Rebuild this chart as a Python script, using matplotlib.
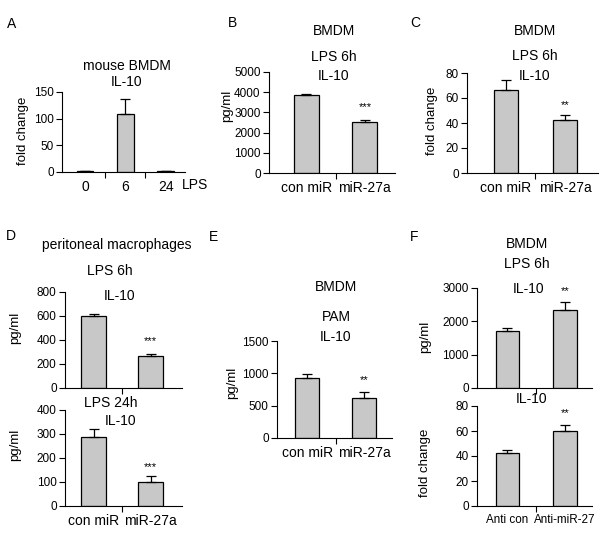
import numpy as np
import matplotlib
matplotlib.use('Agg')
import matplotlib.pyplot as plt

plt.rcParams['font.family'] = ['Liberation Sans', 'DejaVu Sans']

W, H = 600, 541

# data
a_cats = ['0', '6', '24']
a_vals = [1.5, 108, 1.5]
a_err = [0.5, 28, 0.8]

b_cats = ['con miR', 'miR-27a']
b_vals = [3840, 2530]
b_err = [60, 90]

c_cats = ['con miR', 'miR-27a']
c_vals = [66.7, 42.2]
c_err = [8, 4]

d6_cats = ['con miR', 'miR-27a']
d6_vals = [602, 266]
d6_err = [14, 17]
d24_vals = [286, 102]
d24_err = [34, 25]

e_cats = ['con miR', 'miR-27a']
e_vals = [921, 614]
e_err = [62, 92]

f_cats = ['Anti con', 'Anti-miR-27']
f_pg_vals = [1712, 2347]
f_pg_err = [100, 220]
f_fc_vals = [42.4, 59.8]
f_fc_err = [2.2, 5.3]

fig = plt.figure(figsize=(W / 100, H / 100), dpi=100)


def px_axes(left, right, top, bottom):
    return fig.add_axes([left / W, 1 - bottom / H, (right - left) / W, (bottom - top) / H])


def txt(x, y, s, size=10, ha='center', **kw):
    fig.text(x / W, 1 - y / H, s, ha=ha, va='center', fontsize=size, **kw)


def bars(ax, cats, vals, err, ymax, ystep, xlim, xlabels=True, xsize=10, width=0.42):
    x = np.arange(len(cats))
    ax.bar(x, vals, width=width, color='#c8c8c8', edgecolor='black', linewidth=0.9, zorder=2)
    ax.errorbar(x, vals, yerr=[np.zeros(len(err)), err], fmt='none', ecolor='black',
                elinewidth=0.9, capsize=3.5, capthick=0.9, zorder=3)
    ax.set_xlim(*xlim)
    ax.set_ylim(0, ymax)
    ax.set_yticks(np.arange(0, ymax + ystep / 2, ystep))
    ax.set_xticks(x)
    ax.set_xticks(np.arange(0.5, len(cats) - 0.5, 1.0), minor=True)
    if xlabels:
        ax.set_xticklabels(cats, fontsize=xsize)
    else:
        ax.set_xticklabels([])
    ax.tick_params(axis='x', which='major', length=0, pad=6)
    ax.tick_params(axis='x', which='minor', length=4, width=0.8, direction='out')
    ax.tick_params(axis='y', length=4, width=0.8, direction='out', labelsize=8.5, pad=2)
    for s in ['top', 'right']:
        ax.spines[s].set_visible(False)
    for s in ['left', 'bottom']:
        ax.spines[s].set_linewidth(0.8)
    ax.set_facecolor('none')
    ax.yaxis.set_clip_on(False)


# A
ax = px_axes(62, 185, 92, 172)
bars(ax, a_cats, a_vals, a_err, 150, 50, (-0.57, 2.48), width=0.42)
txt(12, 24, 'A')
txt(127, 66, 'mouse BMDM')
txt(127, 82, 'IL-10')
txt(23, 131, 'fold change', size=9.5, rotation=90)
txt(182, 185, 'LPS', ha='left')

# B
ax = px_axes(269, 395, 72, 173)
bars(ax, b_cats, b_vals, b_err, 5000, 1000, (-0.64, 1.52), width=0.43)
txt(233, 23, 'B')
txt(334, 31, 'BMDM')
txt(334, 57, 'LPS 6h')
txt(334, 76, 'IL-10')
txt(227, 106, 'pg/ml', size=9.5, rotation=90)
txt(365, 107, '***', size=8)

# C
ax = px_axes(467, 598, 73, 173)
bars(ax, c_cats, c_vals, c_err, 80, 20, (-0.66, 1.56), width=0.42)
txt(415, 23, 'C')
txt(535, 31, 'BMDM')
txt(535, 56, 'LPS 6h')
txt(535, 76, 'IL-10')
txt(432, 121, 'fold change', size=9.5, rotation=90)
txt(565, 105, '**', size=8)

# D
ax = px_axes(65, 182, 292, 388)
bars(ax, d6_cats, d6_vals, d6_err, 800, 200, (-0.5, 1.55), xlabels=False, width=0.44)
txt(11, 236, 'D')
txt(117, 245, 'peritoneal macrophages')
txt(110, 271, 'LPS 6h')
txt(120, 296, 'IL-10')
txt(15, 328, 'pg/ml', size=9.5, rotation=90)
txt(150, 341, '***', size=8)

ax = px_axes(65, 182, 410, 506)
bars(ax, d6_cats, d24_vals, d24_err, 400, 100, (-0.5, 1.55), width=0.44)
txt(111, 403, 'LPS 24h')
txt(121, 421, 'IL-10')
txt(15, 445, 'pg/ml', size=9.5, rotation=90)
txt(150, 467, '***', size=8)

# E
ax = px_axes(277, 392, 341, 438)
bars(ax, e_cats, e_vals, e_err, 1500, 500, (-0.53, 1.49), width=0.42)
txt(213, 237, 'E')
txt(336, 287, 'BMDM')
txt(336, 317, 'PAM')
txt(336, 337, 'IL-10')
txt(232, 383, 'pg/ml', size=9.5, rotation=90)
txt(364, 380, '**', size=8)

# F
ax = px_axes(477, 592, 288, 388)
bars(ax, f_cats, f_pg_vals, f_pg_err, 3000, 1000, (-0.53, 1.47), xlabels=False, width=0.41)
txt(414, 237, 'F')
txt(527, 244, 'BMDM')
txt(527, 264, 'LPS 6h')
txt(529, 289, 'IL-10')
txt(425, 337, 'pg/ml', size=9.5, rotation=90)
txt(565, 291, '**', size=8)

ax = px_axes(477, 592, 406, 506)
bars(ax, f_cats, f_fc_vals, f_fc_err, 80, 20, (-0.53, 1.47), xsize=8.4, width=0.41)
txt(532, 399, 'IL-10')
txt(425, 463, 'fold change', size=9.5, rotation=90)
txt(565, 413, '**', size=8)

fig.savefig('out.png', dpi=100, facecolor='white')
